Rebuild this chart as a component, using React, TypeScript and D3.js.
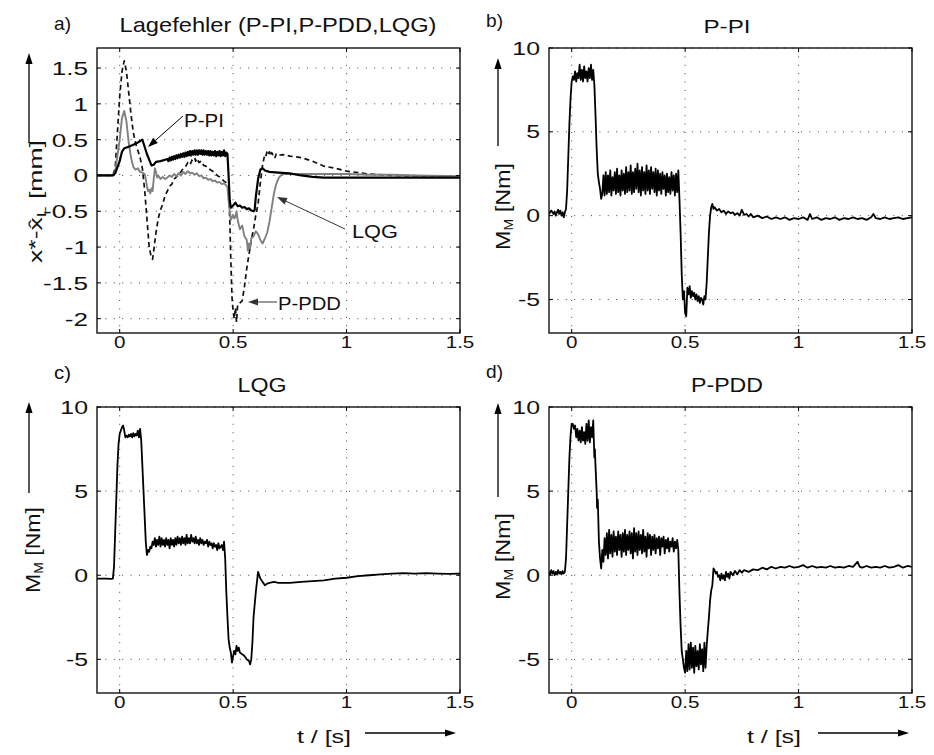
import React from 'react';
import * as d3 from 'd3';

type P = [number, number];

const X_TICKS = [0, 0.5, 1, 1.5];
const X_TICK_LABELS = ['0', '0.5', '1', '1.5'];
const ERR_TICKS = [1.5, 1, 0.5, 0, -0.5, -1, -1.5, -2];
const ERR_TICK_LABELS = ['1.5', '1', '0.5', '0', '-0.5', '-1', '-1.5', '-2'];
const TQ_TICKS = [10, 5, 0, -5];
const TQ_TICK_LABELS = ['10', '5', '0', '-5'];

// a) Lagefehler, P-PI (solid black)
const ERR_PPI: P[] = [
  [-0.1, 0], [-0.03, 0], [-0.02, 0.03], [0, 0.2], [0.01, 0.33], [0.02, 0.38], [0.04, 0.4], [0.06, 0.43], [0.08, 0.46], [0.1, 0.5],
  [0.105, 0.45], [0.12, 0.3], [0.14, 0.14], [0.15, 0.15], [0.16, 0.19], [0.18, 0.2], [0.2, 0.22], [0.21, 0.23], [0.215, 0.2],
  [0.22, 0.25], [0.225, 0.21], [0.23, 0.26], [0.235, 0.22], [0.24, 0.27], [0.245, 0.23], [0.25, 0.28], [0.255, 0.24], [0.26, 0.29],
  [0.265, 0.25], [0.27, 0.3], [0.275, 0.26], [0.28, 0.31], [0.285, 0.26], [0.29, 0.32], [0.295, 0.27], [0.3, 0.33], [0.305, 0.28],
  [0.31, 0.34], [0.315, 0.28], [0.32, 0.34], [0.325, 0.29], [0.33, 0.35], [0.335, 0.29], [0.34, 0.35], [0.345, 0.29], [0.35, 0.35],
  [0.355, 0.3], [0.36, 0.35], [0.365, 0.29], [0.37, 0.35], [0.375, 0.29], [0.38, 0.34], [0.385, 0.29], [0.39, 0.34], [0.395, 0.28],
  [0.4, 0.34], [0.405, 0.28], [0.41, 0.33], [0.415, 0.28], [0.42, 0.34], [0.425, 0.27], [0.43, 0.33], [0.435, 0.28], [0.44, 0.34],
  [0.445, 0.27], [0.45, 0.33], [0.455, 0.28], [0.46, 0.35], [0.465, 0.27], [0.47, 0.32], [0.475, 0.3], [0.48, 0.0], [0.485, -0.35],
  [0.49, -0.45], [0.5, -0.42], [0.51, -0.38], [0.52, -0.43], [0.53, -0.42], [0.54, -0.45], [0.55, -0.44], [0.56, -0.47], [0.57, -0.46],
  [0.58, -0.49], [0.59, -0.5], [0.595, -0.48], [0.6, -0.3], [0.61, -0.05], [0.62, 0.08], [0.63, 0.1], [0.64, 0.07], [0.66, 0.05],
  [0.7, 0.04], [0.75, 0.03], [0.8, 0.0], [0.85, -0.02], [0.9, -0.03], [1.0, -0.03], [1.2, -0.03], [1.5, -0.03],
];

// a) Lagefehler, LQG (grey)
const ERR_LQG: P[] = [
  [-0.1, 0], [-0.03, 0], [-0.02, 0.05], [0, 0.5], [0.01, 0.8], [0.02, 0.9], [0.03, 0.75], [0.04, 0.45], [0.05, 0.25], [0.06, 0.12],
  [0.07, 0.08], [0.08, 0.1], [0.09, 0.05], [0.1, 0.04], [0.11, 0.02], [0.115, -0.05], [0.12, -0.15], [0.125, -0.22], [0.13, -0.2],
  [0.135, -0.25], [0.14, -0.18], [0.145, -0.22], [0.15, -0.05], [0.155, 0.1], [0.16, 0.05], [0.165, -0.03], [0.17, 0.0], [0.18, -0.05],
  [0.19, -0.02], [0.2, -0.05], [0.21, -0.03], [0.22, 0.0], [0.23, -0.02], [0.24, 0.02], [0.25, -0.01], [0.26, 0.03], [0.27, 0.0],
  [0.28, 0.05], [0.29, 0.02], [0.3, 0.06], [0.31, 0.03], [0.32, 0.04], [0.33, 0.01], [0.34, 0.03], [0.35, -0.01], [0.36, 0.0],
  [0.37, -0.04], [0.38, -0.03], [0.39, -0.06], [0.4, -0.05], [0.41, -0.08], [0.42, -0.07], [0.43, -0.1], [0.44, -0.09], [0.45, -0.12],
  [0.46, -0.11], [0.47, -0.14], [0.475, -0.16], [0.48, -0.35], [0.485, -0.5], [0.49, -0.62], [0.5, -0.55], [0.505, -0.6], [0.51, -0.58],
  [0.515, -0.5], [0.52, -0.62], [0.53, -0.75], [0.54, -0.7], [0.55, -0.85], [0.56, -0.9], [0.565, -1.05], [0.57, -0.95], [0.575, -1.02],
  [0.58, -0.88], [0.59, -0.85], [0.6, -0.78], [0.61, -0.82], [0.62, -0.9], [0.63, -0.95], [0.64, -0.88], [0.65, -0.8], [0.66, -0.65],
  [0.67, -0.45], [0.68, -0.25], [0.69, -0.12], [0.7, -0.04], [0.71, 0.0], [0.72, 0.02], [0.8, 0.02], [0.9, 0.02], [1.0, 0.02],
  [1.1, 0.01], [1.2, 0.01], [1.3, 0.0], [1.5, -0.01],
];

// a) Lagefehler, P-PDD (dashed black)
const ERR_PPDD: P[] = [
  [-0.1, 0], [-0.03, 0], [-0.02, 0.1], [-0.01, 0.6], [0, 1.1], [0.01, 1.45], [0.02, 1.6], [0.03, 1.45], [0.04, 1.15], [0.05, 0.85],
  [0.06, 0.6], [0.07, 0.45], [0.08, 0.35], [0.09, 0.25], [0.1, 0.1], [0.11, -0.2], [0.12, -0.6], [0.13, -1.0], [0.14, -1.15],
  [0.145, -1.17], [0.15, -1.05], [0.16, -0.8], [0.17, -0.6], [0.18, -0.48], [0.19, -0.4], [0.2, -0.28], [0.21, -0.22], [0.22, -0.15],
  [0.23, -0.12], [0.24, -0.05], [0.25, -0.02], [0.26, 0.02], [0.27, 0.05], [0.28, 0.1], [0.29, 0.12], [0.3, 0.18], [0.31, 0.15],
  [0.32, 0.22], [0.33, 0.25], [0.335, 0.2], [0.34, 0.24], [0.35, 0.18], [0.36, 0.2], [0.37, 0.14], [0.38, 0.13], [0.39, 0.1],
  [0.4, 0.08], [0.41, 0.06], [0.42, 0.04], [0.43, 0.0], [0.44, -0.02], [0.45, -0.05], [0.46, -0.08], [0.47, -0.1], [0.48, -0.2],
  [0.485, -0.6], [0.49, -1.2], [0.495, -1.7], [0.5, -1.9], [0.505, -2.0], [0.51, -1.85], [0.515, -2.05], [0.52, -1.8], [0.53, -1.78],
  [0.54, -1.75], [0.55, -1.55], [0.56, -1.3], [0.57, -1.1], [0.58, -0.9], [0.59, -0.75], [0.6, -0.55], [0.61, -0.4], [0.62, -0.1],
  [0.63, 0.15], [0.64, 0.3], [0.645, 0.28], [0.65, 0.34], [0.655, 0.3], [0.66, 0.33], [0.665, 0.27], [0.67, 0.32], [0.675, 0.29],
  [0.68, 0.3], [0.685, 0.25], [0.69, 0.3], [0.7, 0.28], [0.72, 0.29], [0.75, 0.27], [0.8, 0.25], [0.85, 0.2], [0.9, 0.13],
  [0.95, 0.1], [1.0, 0.06], [1.05, 0.04], [1.1, 0.02], [1.2, 0.0], [1.5, -0.01],
];

// b) Motormoment P-PI
const TQ_PPI: P[] = [
  [-0.1, 0.1], [-0.09, 0.3], [-0.08, 0.1], [-0.075, 0.25], [-0.07, 0.0], [-0.065, 0.2], [-0.06, 0.35], [-0.055, 0.1], [-0.05, 0.3],
  [-0.045, 0.0], [-0.04, 0.2], [-0.035, -0.1], [-0.03, 0.2], [-0.025, 0.4], [-0.02, 1.5], [-0.015, 3.5], [-0.01, 5.5], [-0.005, 7.0],
  [0, 8.0], [0.005, 8.3], [0.01, 8.1], [0.015, 8.6], [0.02, 8.0], [0.025, 8.5], [0.03, 8.2], [0.035, 9.0], [0.04, 8.1], [0.045, 8.7],
  [0.05, 8.0], [0.055, 8.9], [0.06, 8.2], [0.065, 8.6], [0.07, 8.0], [0.075, 8.8], [0.08, 8.2], [0.085, 9.0], [0.09, 8.1], [0.095, 8.7],
  [0.1, 7.8], [0.105, 6.0], [0.11, 4.0], [0.115, 2.5], [0.12, 2.0], [0.125, 1.6], [0.13, 1.0], [0.135, 1.3], [0.14, 2.4], [0.145, 1.2],
  [0.15, 2.6], [0.155, 1.3], [0.16, 2.4], [0.165, 1.4], [0.17, 2.7], [0.175, 1.2], [0.18, 2.3], [0.185, 1.5], [0.19, 2.6], [0.195, 1.3],
  [0.2, 2.8], [0.205, 1.4], [0.21, 2.4], [0.215, 1.2], [0.22, 2.7], [0.225, 1.5], [0.23, 2.5], [0.235, 1.3], [0.24, 2.9], [0.245, 1.4],
  [0.25, 2.6], [0.255, 1.5], [0.26, 3.0], [0.265, 1.3], [0.27, 2.6], [0.275, 1.4], [0.28, 2.8], [0.285, 1.6], [0.29, 3.1], [0.295, 1.4],
  [0.3, 2.7], [0.305, 1.2], [0.31, 2.9], [0.315, 1.5], [0.32, 2.6], [0.325, 1.3], [0.33, 3.0], [0.335, 1.5], [0.34, 2.7], [0.345, 1.3],
  [0.35, 2.9], [0.355, 1.6], [0.36, 2.6], [0.365, 1.4], [0.37, 2.8], [0.375, 1.2], [0.38, 2.7], [0.385, 1.5], [0.39, 2.5], [0.395, 1.3],
  [0.4, 2.6], [0.405, 1.6], [0.41, 2.4], [0.415, 1.2], [0.42, 2.5], [0.425, 1.4], [0.43, 2.3], [0.435, 1.3], [0.44, 2.6], [0.445, 1.5],
  [0.45, 2.4], [0.455, 1.2], [0.46, 2.5], [0.465, 1.4], [0.47, 2.7], [0.475, 1.0], [0.48, -1.0], [0.485, -3.5], [0.49, -5.0],
  [0.495, -4.5], [0.5, -5.8], [0.505, -6.0], [0.51, -4.3], [0.515, -4.7], [0.52, -4.2], [0.525, -4.9], [0.53, -4.5], [0.535, -4.8],
  [0.54, -4.6], [0.545, -5.0], [0.55, -4.7], [0.555, -5.1], [0.56, -4.8], [0.565, -5.2], [0.57, -4.9], [0.575, -5.0], [0.58, -5.3],
  [0.585, -4.8], [0.59, -5.0], [0.595, -4.0], [0.6, -2.5], [0.605, -1.0], [0.61, 0.0], [0.615, 0.5], [0.62, 0.7], [0.625, 0.4],
  [0.63, 0.5], [0.64, 0.3], [0.65, 0.4], [0.66, 0.2], [0.67, 0.3], [0.68, 0.1], [0.69, 0.25], [0.7, 0.15], [0.71, 0.2], [0.72, 0.05],
  [0.73, 0.15], [0.74, 0.0], [0.75, 0.35], [0.76, 0.05], [0.77, 0.1], [0.78, -0.05], [0.79, 0.1], [0.8, -0.1], [0.82, 0.0],
  [0.84, -0.15], [0.86, -0.05], [0.88, -0.2], [0.9, -0.1], [0.92, -0.2], [0.94, -0.1], [0.96, -0.25], [0.98, -0.15], [1.0, -0.2],
  [1.02, -0.1], [1.04, -0.25], [1.05, 0.1], [1.06, -0.2], [1.08, -0.1], [1.1, -0.25], [1.12, -0.15], [1.14, -0.2], [1.16, -0.1],
  [1.18, -0.25], [1.2, -0.15], [1.22, -0.2], [1.24, -0.1], [1.26, -0.2], [1.28, -0.15], [1.3, -0.25], [1.32, -0.1], [1.33, 0.1],
  [1.34, -0.15], [1.36, -0.2], [1.38, -0.1], [1.4, -0.2], [1.42, -0.15], [1.44, -0.1], [1.46, -0.2], [1.48, -0.15], [1.5, -0.1],
];

// c) Motormoment LQG
const TQ_LQG: P[] = [
  [-0.1, -0.2], [-0.06, -0.2], [-0.04, -0.22], [-0.03, -0.2], [-0.025, 0.5], [-0.02, 2.5], [-0.015, 4.5], [-0.01, 6.5], [-0.005, 7.8],
  [0, 8.4], [0.01, 8.8], [0.015, 8.9], [0.02, 8.6], [0.025, 8.2], [0.03, 8.3], [0.035, 8.2], [0.04, 8.35], [0.045, 8.25], [0.05, 8.4],
  [0.055, 8.2], [0.06, 8.45], [0.065, 8.25], [0.07, 8.4], [0.075, 8.3], [0.08, 8.6], [0.085, 8.2], [0.09, 8.7], [0.095, 8.0],
  [0.1, 6.5], [0.105, 5.0], [0.11, 3.5], [0.115, 2.0], [0.12, 1.2], [0.125, 1.5], [0.13, 1.4], [0.135, 1.7], [0.14, 1.6], [0.145, 2.0],
  [0.15, 1.8], [0.155, 2.2], [0.16, 1.7], [0.165, 2.1], [0.17, 1.8], [0.175, 2.3], [0.18, 1.7], [0.185, 2.2], [0.19, 1.8], [0.195, 2.1],
  [0.2, 1.7], [0.205, 2.2], [0.21, 1.8], [0.215, 2.1], [0.22, 1.6], [0.225, 2.2], [0.23, 1.8], [0.235, 2.1], [0.24, 1.7], [0.245, 2.2],
  [0.25, 1.8], [0.255, 2.3], [0.26, 1.9], [0.265, 2.2], [0.27, 1.8], [0.275, 2.3], [0.28, 1.9], [0.285, 2.2], [0.29, 1.8], [0.295, 2.4],
  [0.3, 1.9], [0.305, 2.2], [0.31, 1.9], [0.315, 2.4], [0.32, 2.0], [0.325, 2.2], [0.33, 1.9], [0.335, 2.3], [0.34, 1.9], [0.345, 2.1],
  [0.35, 1.8], [0.355, 2.2], [0.36, 1.9], [0.365, 2.1], [0.37, 1.8], [0.375, 2.0], [0.38, 1.9], [0.385, 2.1], [0.39, 1.7], [0.395, 2.0],
  [0.4, 1.8], [0.405, 1.9], [0.41, 1.6], [0.415, 1.9], [0.42, 1.7], [0.425, 1.8], [0.43, 1.5], [0.435, 1.9], [0.44, 1.6], [0.445, 1.7],
  [0.45, 1.8], [0.455, 1.5], [0.46, 2.0], [0.465, 1.0], [0.47, -1.0], [0.475, -2.5], [0.48, -3.8], [0.485, -4.3], [0.49, -4.6],
  [0.495, -5.2], [0.5, -4.8], [0.505, -4.5], [0.51, -4.7], [0.515, -4.2], [0.52, -4.5], [0.525, -4.3], [0.53, -4.6], [0.54, -4.7],
  [0.55, -4.8], [0.56, -5.0], [0.57, -5.1], [0.575, -5.3], [0.58, -5.0], [0.585, -4.0], [0.59, -2.5], [0.6, -1.0], [0.61, 0.2],
  [0.615, 0.0], [0.62, -0.2], [0.63, -0.4], [0.64, -0.6], [0.65, -0.5], [0.66, -0.45], [0.68, -0.4], [0.7, -0.45], [0.75, -0.45],
  [0.8, -0.4], [0.85, -0.35], [0.9, -0.3], [0.95, -0.2], [1.0, -0.15], [1.05, -0.05], [1.1, 0.0], [1.15, 0.05], [1.2, 0.1],
  [1.25, 0.12], [1.3, 0.1], [1.35, 0.12], [1.4, 0.1], [1.45, 0.08], [1.5, 0.1],
];

// d) Motormoment P-PDD
const TQ_PPDD: P[] = [
  [-0.1, 0.2], [-0.095, 0.05], [-0.09, 0.3], [-0.085, 0.1], [-0.08, 0.25], [-0.075, 0.0], [-0.07, 0.2], [-0.065, 0.05], [-0.06, 0.3],
  [-0.055, 0.1], [-0.05, 0.2], [-0.045, 0.05], [-0.04, 0.25], [-0.035, 0.1], [-0.03, 0.2], [-0.025, 1.0], [-0.02, 3.0], [-0.015, 5.0],
  [-0.01, 7.0], [-0.005, 8.3], [0, 9.0], [0.005, 9.0], [0.01, 8.7], [0.015, 8.9], [0.02, 8.2], [0.025, 8.7], [0.03, 8.0], [0.035, 8.6],
  [0.04, 7.9], [0.045, 8.8], [0.05, 8.0], [0.055, 8.5], [0.06, 7.8], [0.065, 9.0], [0.07, 8.0], [0.075, 9.2], [0.08, 7.9], [0.085, 8.8],
  [0.09, 8.2], [0.095, 9.2], [0.1, 7.0], [0.102, 7.5], [0.105, 6.5], [0.11, 5.0], [0.112, 4.0], [0.115, 4.5], [0.12, 2.0], [0.125, 1.0],
  [0.13, 0.4], [0.135, 1.5], [0.14, 0.8], [0.145, 2.2], [0.15, 1.2], [0.155, 2.5], [0.16, 1.0], [0.165, 2.7], [0.17, 1.3], [0.175, 2.4],
  [0.18, 1.1], [0.185, 2.6], [0.19, 1.4], [0.195, 2.3], [0.2, 1.2], [0.205, 2.6], [0.21, 1.5], [0.215, 2.4], [0.22, 1.1], [0.225, 2.5],
  [0.23, 1.4], [0.235, 2.7], [0.24, 1.2], [0.245, 2.4], [0.25, 1.5], [0.255, 2.6], [0.26, 1.3], [0.265, 2.5], [0.27, 1.0], [0.275, 2.8],
  [0.28, 1.4], [0.285, 2.5], [0.29, 1.2], [0.295, 2.6], [0.3, 1.5], [0.305, 2.4], [0.31, 1.3], [0.315, 2.7], [0.32, 1.4], [0.325, 2.3],
  [0.33, 1.1], [0.335, 2.5], [0.34, 1.6], [0.345, 2.4], [0.35, 1.2], [0.355, 2.3], [0.36, 1.5], [0.365, 2.4], [0.37, 1.3], [0.375, 2.2],
  [0.38, 1.6], [0.385, 2.3], [0.39, 1.2], [0.395, 2.2], [0.4, 1.7], [0.405, 2.3], [0.41, 1.3], [0.415, 2.1], [0.42, 1.6], [0.425, 2.2],
  [0.43, 1.4], [0.435, 2.0], [0.44, 1.7], [0.445, 2.2], [0.45, 1.4], [0.455, 2.0], [0.46, 1.6], [0.465, 2.1], [0.47, 1.5],
  [0.475, -1.0], [0.48, -3.0], [0.485, -4.5], [0.49, -5.0], [0.495, -5.5], [0.5, -5.8], [0.505, -4.5], [0.51, -5.7], [0.515, -4.1],
  [0.52, -5.6], [0.525, -4.0], [0.53, -5.5], [0.535, -4.3], [0.54, -5.8], [0.545, -4.2], [0.55, -5.4], [0.555, -4.5], [0.56, -5.6],
  [0.565, -4.1], [0.57, -5.3], [0.575, -4.4], [0.58, -5.7], [0.585, -4.0], [0.59, -5.5], [0.595, -4.2], [0.6, -3.3], [0.605, -2.5],
  [0.61, -1.5], [0.615, -0.9], [0.62, -0.6], [0.625, 0.4], [0.63, 0.3], [0.635, 0.1], [0.64, 0.2], [0.645, -0.1], [0.65, 0.0],
  [0.655, -0.3], [0.66, 0.1], [0.665, -0.2], [0.67, 0.0], [0.675, -0.3], [0.68, 0.2], [0.685, -0.1], [0.69, 0.1], [0.695, -0.2],
  [0.7, 0.2], [0.71, 0.0], [0.72, 0.25], [0.73, 0.05], [0.74, 0.3], [0.75, 0.15], [0.76, 0.3], [0.78, 0.2], [0.8, 0.35], [0.82, 0.3],
  [0.84, 0.45], [0.86, 0.35], [0.88, 0.5], [0.9, 0.4], [0.92, 0.5], [0.94, 0.45], [0.96, 0.55], [0.98, 0.45], [1.0, 0.5], [1.02, 0.6],
  [1.04, 0.45], [1.06, 0.55], [1.08, 0.45], [1.1, 0.5], [1.12, 0.45], [1.14, 0.55], [1.16, 0.45], [1.18, 0.5], [1.2, 0.45], [1.22, 0.55],
  [1.24, 0.5], [1.26, 0.8], [1.27, 0.5], [1.28, 0.45], [1.3, 0.55], [1.32, 0.45], [1.34, 0.5], [1.36, 0.45], [1.38, 0.55], [1.4, 0.45],
  [1.42, 0.5], [1.44, 0.6], [1.46, 0.45], [1.48, 0.55], [1.5, 0.5],
];

const FONT = 'Liberation Sans, Arial, Helvetica, sans-serif';

type Series = { data: P[]; color: string; width: number; dash?: string };

function Arrow({ x1, y1, x2, y2, color = '#000', width = 1.3, hl = 11, hw = 3.6 }: any) {
  const a = Math.atan2(y2 - y1, x2 - x1);
  const bx = x2 - hl * Math.cos(a);
  const by = y2 - hl * Math.sin(a);
  const px = -Math.sin(a) * hw;
  const py = Math.cos(a) * hw;
  return (
    <g>
      <line x1={x1} y1={y1} x2={bx} y2={by} stroke={color} strokeWidth={width} />
      <polygon points={`${x2},${y2} ${bx + px},${by + py} ${bx - px},${by - py}`} fill={color} />
    </g>
  );
}

function Txt({ x, y, size, len, anchor = 'start', rotate = 0, children, fill = '#111' }: any) {
  return (
    <text
      transform={`translate(${x},${y}) rotate(${rotate})`}
      fontSize={size}
      fontFamily={FONT}
      textAnchor={anchor}
      textLength={len}
      lengthAdjust="spacingAndGlyphs"
      fill={fill}
    >
      {children}
    </text>
  );
}

function Panel({ id, x0, x1, y0, y1, yDomain, yTicks, yLabels, series, ySx, xSx, ySize, xSize, yDy }: any) {
  const xs = d3.scaleLinear().domain([-0.1, 1.5]).range([x0, x1]);
  const ys = d3.scaleLinear().domain(yDomain).range([y1, y0]);
  const line = d3.line<P>().x((d) => xs(d[0])).y((d) => ys(d[1]));
  const grid = '#444';
  return (
    <g>
      <defs>
        <clipPath id={`clip-${id}`}>
          <rect x={x0} y={y0} width={x1 - x0} height={y1 - y0} />
        </clipPath>
      </defs>
      <rect x={x0} y={y0} width={x1 - x0} height={y1 - y0} fill="#fff" />
      {X_TICKS.filter((t) => t < 1.5).map((t) => (
        <line key={'gx' + t} x1={xs(t)} x2={xs(t)} y1={y0} y2={y1} stroke={grid} strokeWidth={1} strokeDasharray="1,7.4" />
      ))}
      {yTicks.map((v: number) => (
        <line key={'gy' + v} x1={x0} x2={x1} y1={ys(v)} y2={ys(v)} stroke={grid} strokeWidth={1} strokeDasharray="1,7.4" />
      ))}
      <g clipPath={`url(#clip-${id})`}>
        {series.map((s: Series, i: number) => (
          <path
            key={i}
            d={line(s.data) || ''}
            fill="none"
            stroke={s.color}
            strokeWidth={s.width}
            strokeDasharray={s.dash}
            strokeLinejoin="round"
          />
        ))}
      </g>
      {X_TICKS.map((t) => (
        <g key={'tx' + t}>
          <line x1={xs(t)} x2={xs(t)} y1={y1} y2={y1 - 4} stroke="#000" />
          <line x1={xs(t)} x2={xs(t)} y1={y0} y2={y0 + 4} stroke="#000" />
        </g>
      ))}
      {yTicks.map((v: number) => (
        <g key={'ty' + v}>
          <line x1={x0} x2={x0 + 4} y1={ys(v)} y2={ys(v)} stroke="#000" />
          <line x1={x1} x2={x1 - 4} y1={ys(v)} y2={ys(v)} stroke="#000" />
        </g>
      ))}
      <rect x={x0} y={y0} width={x1 - x0} height={y1 - y0} fill="none" stroke="#000" strokeWidth={1.3} />
      {X_TICKS.map((t, i) => (
        <text
          key={'lx' + t}
          transform={`translate(${xs(t)},${y1 + 15}) scale(${xSx},1)`}
          fontSize={xSize}
          fontFamily={FONT}
          textAnchor="middle"
          fill="#111"
        >
          {X_TICK_LABELS[i]}
        </text>
      ))}
      {yTicks.map((v: number, i: number) => (
        <text
          key={'ly' + v}
          transform={`translate(${x0 - 9},${ys(v) + yDy}) scale(${ySx},1)`}
          fontSize={ySize}
          fontFamily={FONT}
          textAnchor="end"
          fill="#111"
        >
          {yLabels[i]}
        </text>
      ))}
    </g>
  );
}

export default function App() {
  return (
    <svg width={934} height={755} style={{ position: 'absolute', left: 0, top: 0, background: '#fff' }}>
      <rect x={0} y={0} width={934} height={755} fill="#fff" />
      {/* panel a */}
      <Panel
        id="a" x0={97} x1={460} y0={48} y1={333} yDomain={[-2.2, 1.78]}
        yTicks={ERR_TICKS} yLabels={ERR_TICK_LABELS}
        ySx={1.45} xSx={1.25} ySize={18} xSize={16.5} yDy={7}
        series={[
          { data: ERR_PPDD, color: '#111', width: 1.7, dash: '5,3.5' },
          { data: ERR_LQG, color: '#808080', width: 1.9 },
          { data: ERR_PPI, color: '#000', width: 2.2 },
        ]}
      />
      {/* panel b */}
      <Panel
        id="b" x0={549} x1={912} y0={48} y1={333} yDomain={[-7, 10]}
        yTicks={TQ_TICKS} yLabels={TQ_TICK_LABELS}
        ySx={1.38} xSx={1.25} ySize={18} xSize={16.5} yDy={6.5}
        series={[{ data: TQ_PPI, color: '#000', width: 1.8 }]}
      />
      {/* panel c */}
      <Panel
        id="c" x0={97} x1={460} y0={407} y1={693} yDomain={[-7, 10]}
        yTicks={TQ_TICKS} yLabels={TQ_TICK_LABELS}
        ySx={1.38} xSx={1.25} ySize={18} xSize={16.5} yDy={6.5}
        series={[{ data: TQ_LQG, color: '#000', width: 1.8 }]}
      />
      {/* panel d */}
      <Panel
        id="d" x0={549} x1={912} y0={407} y1={693} yDomain={[-7, 10]}
        yTicks={TQ_TICKS} yLabels={TQ_TICK_LABELS}
        ySx={1.38} xSx={1.25} ySize={18} xSize={16.5} yDy={6.5}
        series={[{ data: TQ_PPDD, color: '#000', width: 1.8 }]}
      />

      {/* panel letters and titles */}
      <Txt x={54} y={30} size={19} len={17}>a)</Txt>
      <Txt x={278} y={32} size={21} len={317} anchor="middle">Lagefehler (P-PI,P-PDD,LQG)</Txt>
      <Txt x={486} y={27} size={19} len={17}>b)</Txt>
      <Txt x={727} y={33} size={19} len={47} anchor="middle">P-PI</Txt>
      <Txt x={54} y={379} size={19} len={17}>c)</Txt>
      <Txt x={262} y={392} size={20} len={49} anchor="middle">LQG</Txt>
      <Txt x={486} y={378} size={19} len={17}>d)</Txt>
      <Txt x={727} y={392} size={20} len={72} anchor="middle">P-PDD</Txt>

      {/* y axis labels */}
      <text transform="translate(42,263) rotate(-90)" fontSize={18} fontFamily={FONT} fill="#111" textLength={123} lengthAdjust="spacingAndGlyphs">
        x*-x̂<tspan fontSize={13} dy={4}>L</tspan><tspan dy={-4}> [mm]</tspan>
      </text>
      <Arrow x1={29} y1={143} x2={29} y2={53} />
      <text transform="translate(510,250) rotate(-90)" fontSize={20} fontFamily={FONT} fill="#111" textLength={87} lengthAdjust="spacingAndGlyphs">
        M<tspan fontSize={12} dy={3}>M</tspan><tspan dy={-3}> [Nm]</tspan>
      </text>
      <Arrow x1={498} y1={146} x2={498} y2={58} />
      <text transform="translate(40,593) rotate(-90)" fontSize={20} fontFamily={FONT} fill="#111" textLength={86} lengthAdjust="spacingAndGlyphs">
        M<tspan fontSize={12} dy={3}>M</tspan><tspan dy={-3}> [Nm]</tspan>
      </text>
      <Arrow x1={29} y1={493} x2={29} y2={402} />
      <text transform="translate(510,600) rotate(-90)" fontSize={20} fontFamily={FONT} fill="#111" textLength={87} lengthAdjust="spacingAndGlyphs">
        M<tspan fontSize={12} dy={3}>M</tspan><tspan dy={-3}> [Nm]</tspan>
      </text>
      <Arrow x1={498} y1={497} x2={498} y2={403} />

      {/* x axis labels */}
      <Txt x={297} y={743} size={19} len={54}>t / [s]</Txt>
      <Arrow x1={365} y1={733} x2={456} y2={733} />
      <Txt x={747} y={743} size={19} len={54}>t / [s]</Txt>
      <Arrow x1={818} y1={733} x2={909} y2={733} />

      {/* annotations panel a */}
      <Txt x={184} y={127} size={18.5} len={40}>P-PI</Txt>
      <Arrow x1={183} y1={116} x2={148} y2={147} width={1} hl={10} hw={3.5} />
      <Txt x={352} y={238} size={18.5} len={46}>LQG</Txt>
      <Arrow x1={345} y1={229} x2={277} y2={197} width={1} hl={10} hw={3.5} color="#333" />
      <Txt x={278} y={310} size={18.5} len={63}>P-PDD</Txt>
      <Arrow x1={277} y1={302} x2={248} y2={302} width={1} hl={10} hw={3.5} color="#333" />
    </svg>
  );
}
